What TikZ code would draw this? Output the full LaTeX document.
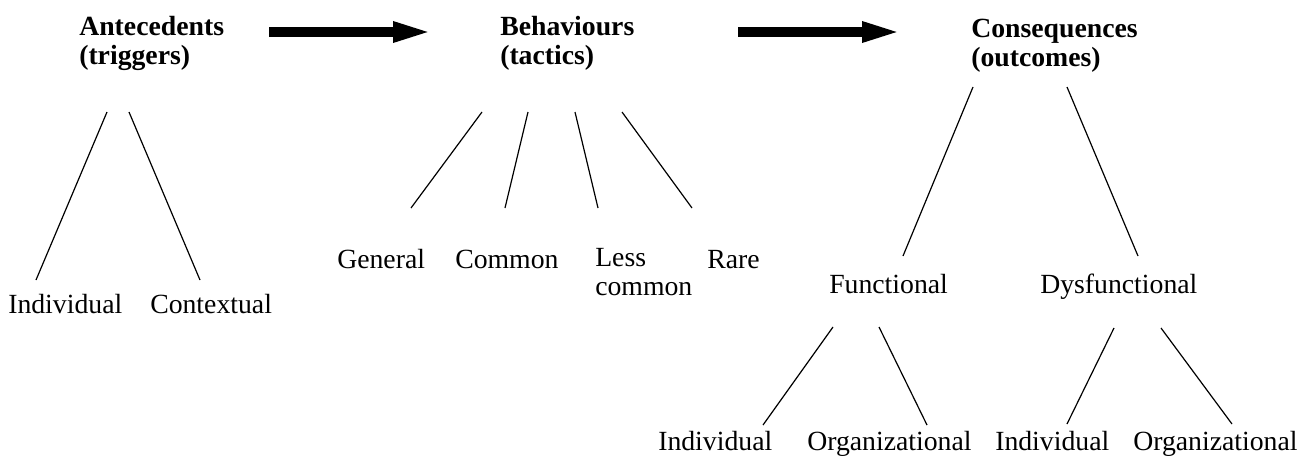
\documentclass[tikz,border=0pt]{standalone}
\usepackage{fontspec}
\setmainfont{Liberation Serif}
\usetikzlibrary{arrows.meta}
\begin{document}
\begin{tikzpicture}[x=0.75pt, y=-0.75pt,
		hdr/.style={font=\fontsize{20.8}{22}\selectfont\bfseries, align=left, anchor=north west, inner sep=0pt},
		lbl/.style={font=\fontsize{20.8}{22}\selectfont, anchor=base west, inner sep=0pt},
		link/.style={line width=0.9pt},
		bigarrow/.style={line width=7.5pt, -{Triangle[length=31.5pt 0 0, width=13.5pt 0 0]}}]
	\useasboundingbox (0,0) rectangle (1314,468);
	% headings
	\node[hdr] (ant) at (79,16) {Antecedents\\(triggers)};
	\node[hdr] (beh) at (500,16) {Behaviours\\(tactics)};
	\node[hdr] (cons) at (971,19) {Consequences\\(outcomes)};
	\draw[bigarrow] ([shift={(190,16)}]ant.north west) -- ([shift={(-65,16)}]beh.north west);
	\draw[bigarrow] ([shift={(238,16)}]beh.north west) -- ([shift={(-67,13)}]cons.north west);
	% antecedents
	\node[lbl] (ind) at (8,313) {Individual};
	\node[lbl] (ctx) at (150,313) {Contextual};
	\draw[link] ([shift={(28,96)}]ant.north west) -- ([shift={(28,-33)}]ind.base west);
	\draw[link] ([shift={(50,96)}]ant.north west) -- ([shift={(50,-33)}]ctx.base west);
	% behaviours
	\node[lbl] (gen) at (337,268) {General};
	\node[lbl] (com) at (455,268) {Common};
	\node[lbl, align=left, anchor=north west] (less) at (595,248) {Less\\common};
	\node[lbl] (rare) at (707,268) {Rare};
	\draw[link] ([shift={(-18,96)}]beh.north west) -- ([shift={(74,-60)}]gen.base west);
	\draw[link] ([shift={(28,96)}]beh.north west) -- ([shift={(50,-60)}]com.base west);
	\draw[link] ([shift={(75,96)}]beh.north west) -- ([shift={(3,-40)}]less.north west);
	\draw[link] ([shift={(122,96)}]beh.north west) -- ([shift={(-15,-60)}]rare.base west);
	% consequences
	\node[lbl] (fun) at (829,293) {Functional};
	\node[lbl] (dys) at (1040,293) {Dysfunctional};
	\draw[link] ([shift={(2,68)}]cons.north west) -- ([shift={(74,-37)}]fun.base west);
	\draw[link] ([shift={(96,68)}]cons.north west) -- ([shift={(98,-37)}]dys.base west);
	\node[lbl] (funind) at (658,450) {Individual};
	\node[lbl] (funorg) at (807,450) {Organizational};
	\node[lbl] (dysind) at (995,450) {Individual};
	\node[lbl] (dysorg) at (1133,450) {Organizational};
	\draw[link] ([shift={(4,34)}]fun.base west) -- ([shift={(105,-25)}]funind.base west);
	\draw[link] ([shift={(50,34)}]fun.base west) -- ([shift={(120,-25)}]funorg.base west);
	\draw[link] ([shift={(74,35)}]dys.base west) -- ([shift={(72,-26)}]dysind.base west);
	\draw[link] ([shift={(121,35)}]dys.base west) -- ([shift={(99,-26)}]dysorg.base west);
\end{tikzpicture}
\end{document}
